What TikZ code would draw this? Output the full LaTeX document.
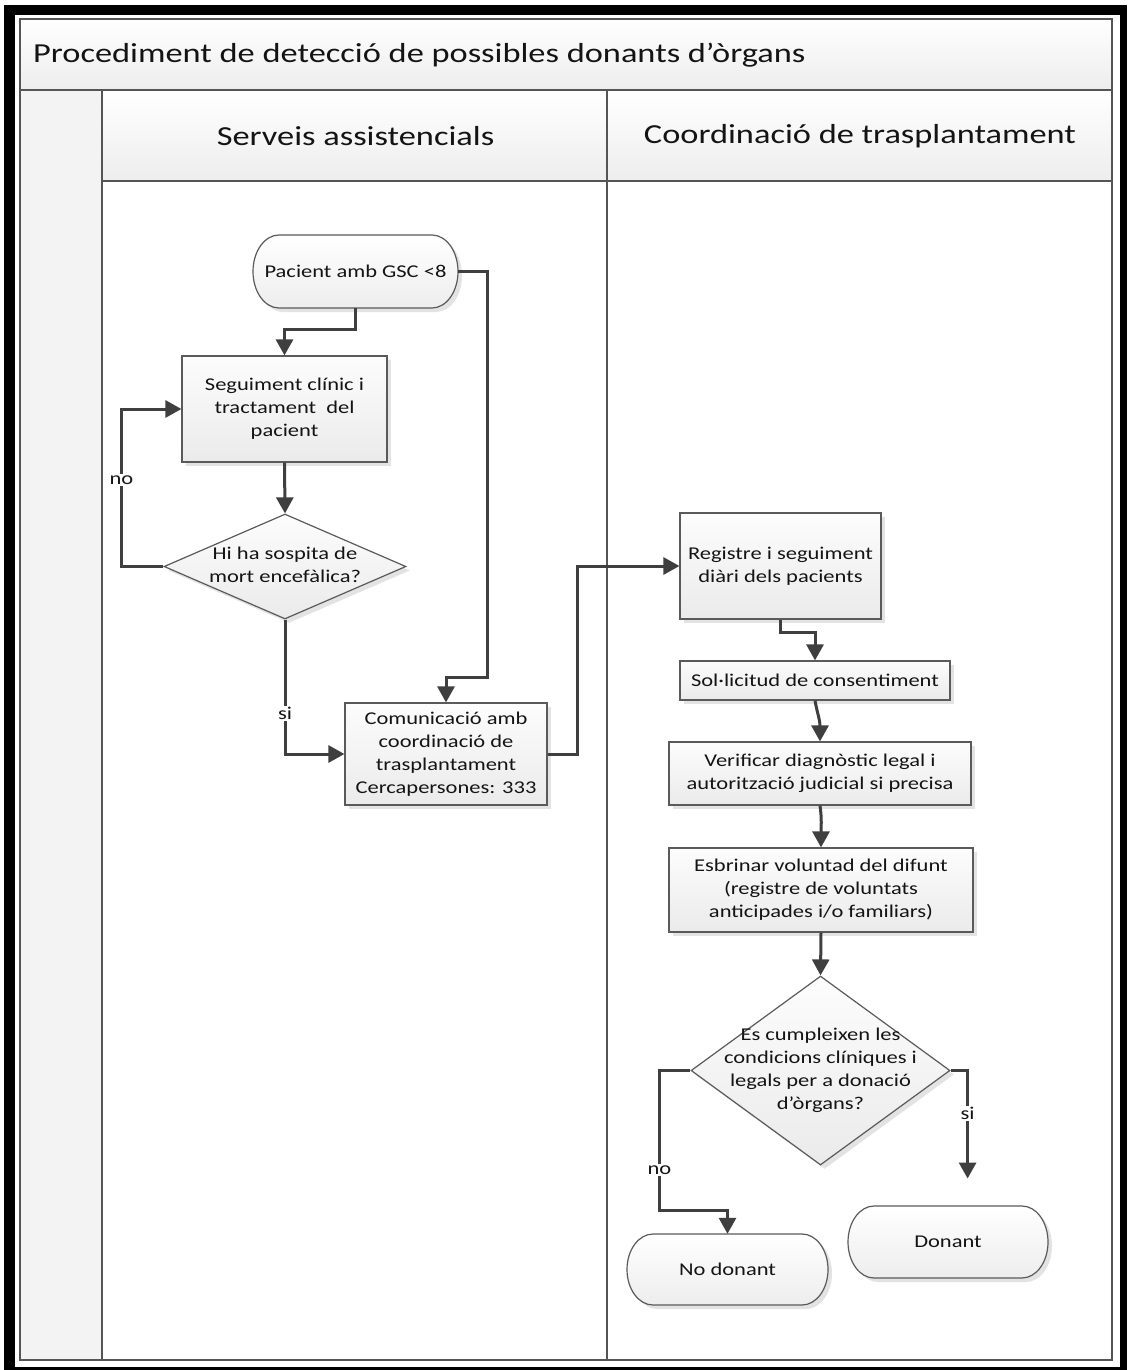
\documentclass[tikz,border=0pt]{standalone}
\usepackage{fontspec}
\setmainfont{Carlito}[FakeStretch=1.25]
\usetikzlibrary{shapes.geometric,arrows.meta,shadows,calc}
\definecolor{connc}{HTML}{3F3F3F}
\definecolor{edgec}{HTML}{5A5A5A}
\definecolor{linec}{HTML}{555555}
\definecolor{bandc}{HTML}{F3F3F3}
\newcommand\dtext[1]{\makebox[0pt]{\raisebox{-4.5pt}[0pt][0pt]{\begin{tabular}{@{}c@{}}#1\end{tabular}}}}
\tikzset{
  basefont/.style={font=\fontsize{18pt}{23pt}\selectfont, text=black!92},
  boxshadow/.style={drop shadow={shadow xshift=4pt,shadow yshift=-4pt,fill=black!11,opacity=1}},
  proc/.style={basefont, rectangle, draw=edgec, line width=1.2pt, top color=black!1, bottom color=black!8, align=center, inner sep=2pt, boxshadow},
  decision/.style={basefont, diamond, draw=edgec, line width=1.2pt, top color=black!1, bottom color=black!8, inner sep=0pt, boxshadow},
  termnode/.style={basefont, rectangle, inner sep=0pt},
  termfill/.style={draw=edgec, line width=1.2pt, top color=white, bottom color=black!7},
  flow/.style={draw=connc, line width=3pt, -{Triangle[length=16pt,width=17pt]}},
  lbl/.style={basefont, fill=white, inner sep=1.5pt},
  bigtext/.style={font=\fontsize{27.5pt}{33pt}\selectfont, text=black!92, inner sep=0pt},
  poolline/.style={draw=linec, line width=2pt},
}
% name, cx, cy, half width, half height, text
\newcommand\term[6]{%
  \fill[black!11] ({#2-#4+26+4},{#3-#5+4}) -- ({#2+#4-26+4},{#3-#5+4})
     arc[start angle=90,end angle=-90,x radius=26pt,y radius=#5pt]
     -- ({#2-#4+26+4},{#3+#5+4})
     arc[start angle=270,end angle=90,x radius=26pt,y radius=#5pt] -- cycle;
  \path[termfill] ({#2-#4+26},{#3-#5}) -- ({#2+#4-26},{#3-#5})
     arc[start angle=90,end angle=-90,x radius=26pt,y radius=#5pt]
     -- ({#2-#4+26},{#3+#5})
     arc[start angle=270,end angle=90,x radius=26pt,y radius=#5pt] -- cycle;
  \node[termnode, minimum width={2*#4pt}, minimum height={2*#5pt}] (#1) at (#2,#3) {#6};
}
\begin{document}
\begin{tikzpicture}[x=1pt,y=-1pt]
\useasboundingbox (0,0) rectangle (1127,1370);
\fill[white] (0,0) rectangle (1127,1370);
% outer black frame
\fill[black] (4,5) rectangle (1127,1370);
\fill[white] (15,15) rectangle (1120,1367);
% pool
\shade[top color=white, bottom color=black!7] (20,19) rectangle (1112,90);
\fill[bandc] (20,90) rectangle (102,1360);
\shade[top color=white, bottom color=black!7] (102,90) rectangle (1112,181);
\fill[white] (102,181) rectangle (1112,1360);
\draw[poolline] (20,19) rectangle (1112,1360);
\draw[poolline] (20,90) -- (1112,90);
\draw[poolline] (102,181) -- (1112,181);
\draw[poolline] (102,90) -- (102,1360);
\draw[poolline] (607,90) -- (607,1360);
\node[bigtext, anchor=west] (title) at (33,55) {Procediment de detecció de possibles donants d’òrgans};
\node[bigtext] (lane1) at (355.5,136) {Serveis assistencials};
\node[bigtext] (lane2) at (860,136) {Coordinació de trasplantament};

% terminators
\term{start}{355.5}{271.5}{102.5}{36.5}{Pacient amb GSC <8}
\term{nodon}{727.5}{1269.5}{100.5}{35.5}{No donant}
\term{don}{948}{1242}{100}{36}{Donant}

% process boxes and decisions
\node[proc, minimum width=205pt, minimum height=106pt] (seg) at (284.5,409) {Seguiment clínic i\\tractament~ del\\pacient};
\node[decision, minimum width=242pt, minimum height=105pt] (dec1) at (285,566.5) {\dtext{Hi ha sospita de\\mort encefàlica?}};
\node[proc, minimum width=202pt, minimum height=102pt] (com) at (446,754) {Comunicació amb\\coordinació de\\trasplantament\\Cercapersones: 333};
\node[proc, minimum width=201pt, minimum height=106pt] (reg) at (780.5,566) {Registre i seguiment\\diàri dels pacients};
\node[proc, minimum width=270pt, minimum height=39pt] (sol) at (815,680.5) {Sol·licitud de consentiment};
\node[proc, minimum width=302pt, minimum height=63pt] (ver) at (820,773.5) {Verificar diagnòstic legal i\\autorització judicial si precisa};
\node[proc, minimum width=304pt, minimum height=84pt] (esb) at (821,890) {Esbrinar voluntad del difunt\\(registre de voluntats\\anticipades i/o familiars)};
\node[decision, minimum width=259pt, minimum height=189pt] (dec2) at (820.5,1070.5) {\dtext{Es cumpleixen les\\condicions clíniques i\\legals per a donació\\d’òrgans?}};

% connectors
\draw[flow] (start.south) -- ++(0,21) -| (seg.north);
\draw[flow] (start.east) -- ++(29,0) -- ++(0,405.5) -| (com.north);
\draw[flow] (seg.south) -- (dec1.north);
\draw[flow] (dec1.west) -- ++(-42,0) coordinate (noc) -- (noc |- seg.west) node[lbl, pos=0.55] {no} -- (seg.west);
\draw[flow] (dec1.south) |- (com.west) node[lbl, pos=0.35] {si};
\draw[flow] (com.east) -- ++(30,0) |- (reg.west);
\draw[flow] (reg.south) -- ++(0,13) -| (sol.north);
\draw[flow] (sol.south) .. controls ($(sol.south)+(3,16)$) and ($(ver.north)+(0,-22)$) .. (ver.north);
\draw[flow] (ver.south) .. controls ($(ver.south)+(2,14)$) and ($(esb.north)+(0,-20)$) .. (esb.north);
\draw[flow] (esb.south) -- (dec2.north);
\draw[flow] (dec2.west) -- ++(-31,0) -- ++(0,140) node[lbl, pos=0.71] {no} -| (nodon.north);
\draw[flow] (dec2.east) -- ++(17,0) -- ++(0,108) node[lbl, pos=0.4] {si} coordinate (siend);
\end{tikzpicture}
\end{document}
